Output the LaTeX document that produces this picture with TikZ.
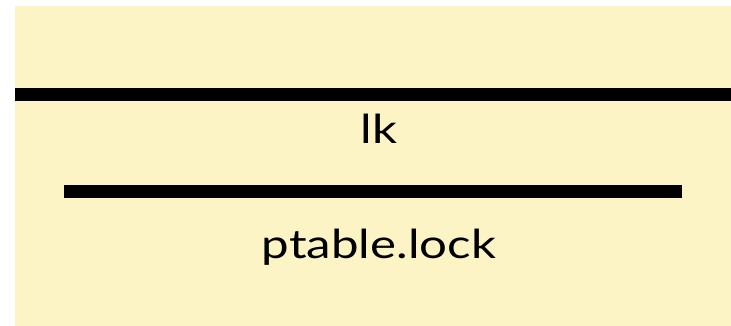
\documentclass[tikz,border=0pt]{standalone}
\usepackage{fontspec}
\setmainfont{Lato}
\definecolor{bgyel}{HTML}{FCF4C5}
\begin{document}
\begin{tikzpicture}[x=1pt,y=-1pt,
  bar/.style={fill=black,draw=none},
  lbl/.style={font=\fontsize{40}{44}\selectfont,inner sep=0pt,anchor=base,xscale=1.23,transform shape}]
\useasboundingbox (0,0) rectangle (731,326);
\fill[bgyel] (15,6) rectangle (731,326);
\fill[bar] (15,88) rectangle (731,101);
\fill[bar] (64,185) rectangle (682,198);
\node[lbl] (lk) at (379,143) {lk};
\node[lbl] (pt) at (379,258) {ptable.lock};
\end{tikzpicture}
\end{document}
